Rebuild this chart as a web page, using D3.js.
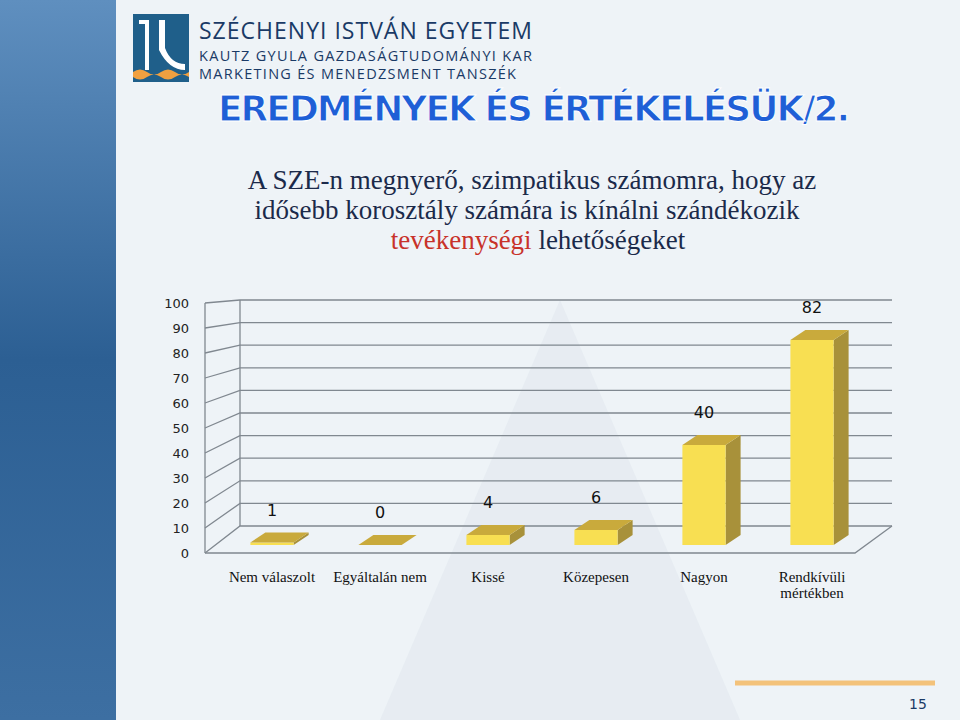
<!DOCTYPE html>
<html><head><meta charset="utf-8">
<script src="https://cdn.jsdelivr.net/npm/d3@7"></script>
<style>body{margin:0;background:#eef3f7}</style>
</head><body>
<svg id="chart" width="960" height="720"></svg>
<script>
const categories = ["Nem válaszolt", "Egyáltalán nem", "Kissé", "Közepesen", "Nagyon", "Rendkívüli mértékben"]
const values = [1, 0, 4, 6, 40, 82]
const yTicks = [0, 10, 20, 30, 40, 50, 60, 70, 80, 90, 100]

const svg = d3.select("#chart")

// background
const defs = svg.append("defs")
const grad = defs.append("linearGradient").attr("id", "side").attr("x1", 0).attr("y1", 0).attr("x2", 0).attr("y2", 1)
grad.append("stop").attr("offset", "0%").attr("stop-color", "#5f8fbf")
grad.append("stop").attr("offset", "50%").attr("stop-color", "#2c5f93")
grad.append("stop").attr("offset", "100%").attr("stop-color", "#3d6fa2")
svg.append("rect").attr("width", 960).attr("height", 720).attr("fill", "#eef3f7")
svg.append("rect").attr("width", 116).attr("height", 720).attr("fill", "url(#side)")
svg.append("path").attr("d", "M380,720 L560,300 L740,720 Z").attr("fill", "#dfe6ee").attr("opacity", 0.5)

// logo
const logo = svg.append("g").attr("transform", "translate(133,14)")
logo.append("rect").attr("width", 56).attr("height", 68).attr("fill", "#1f5f8a")
logo.append("path").attr("d", "M6,6 h10 v50 h-4 v-46 h-6 Z M26,6 v30 q10,20 26,20 v-6 q-14,0 -20,-16 v-28 Z").attr("fill", "#fff")
logo.append("path").attr("d", "M0,58 q7,-5 14,0 t14,0 t14,0 t14,0 v5 q-7,-5 -14,0 t-14,0 t-14,0 t-14,0 Z").attr("fill", "#f0a040")
const hdr = svg.append("g").attr("font-family", "Open Sans, sans-serif").attr("fill", "#1a3a66")
hdr.append("text").attr("x", 199).attr("y", 39).attr("font-size", 23).attr("textLength", 333).text("SZÉCHENYI ISTVÁN EGYETEM")
hdr.append("text").attr("x", 199).attr("y", 61).attr("font-size", 14.5).attr("textLength", 333).text("KAUTZ GYULA GAZDASÁGTUDOMÁNYI KAR")
hdr.append("text").attr("x", 199).attr("y", 79).attr("font-size", 14.5).attr("textLength", 317).text("MARKETING  ÉS MENEDZSMENT TANSZÉK")
svg.append("text").attr("x", 218).attr("y", 121).attr("font-family", "Verdana, DejaVu Sans, sans-serif")
  .attr("font-weight", "bold").attr("font-size", 36).attr("fill", "#1f5fd6")
  .attr("stroke", "#fff").attr("stroke-width", 1).attr("letter-spacing", -2)
  .text("EREDMÉNYEK ÉS ÉRTÉKELÉSÜK/2.")

const sub = svg.append("g").attr("font-family", "Liberation Serif, serif").attr("font-size", 27).attr("text-anchor", "middle").attr("fill", "#1b2a4a")
sub.append("text").attr("x", 532).attr("y", 189).text("A SZE-n megnyerő, szimpatikus számomra, hogy az")
sub.append("text").attr("x", 527).attr("y", 219).text("idősebb korosztály számára is kínálni szándékozik")
const l3 = sub.append("text").attr("x", 538).attr("y", 249)
l3.append("tspan").attr("fill", "#c8322a").text("tevékenységi")
l3.append("tspan").text(" lehetőségeket")

// chart geometry
const yFront = d3.scaleLinear().domain([0, 100]).range([553, 303])
const yBack = d3.scaleLinear().domain([0, 100]).range([526, 300])
const yBar = d3.scaleLinear().domain([0, 100]).range([545, 295])
const x = d3.scaleBand().domain(categories).range([218, 866]).paddingInner(0.6).paddingOuter(0.3)
const wallL = 240, wallR = 892, frontL = 205, frontR = 855

const grid = svg.append("g").attr("stroke", "#808890").attr("stroke-width", 1.3).attr("fill", "none")
yTicks.forEach(t => {
  grid.append("path").attr("d", `M${frontL},${yFront(t)} L${wallL},${yBack(t)} L${wallR},${yBack(t)}`)
})
grid.append("path").attr("d", `M${frontL},${yFront(0)} L${frontL},${yFront(100)}`)
grid.append("path").attr("d", `M${wallL},${yBack(0)} L${wallL},${yBack(100)}`)
grid.append("path").attr("d", `M${frontL},${yFront(0)} L${frontR},${yFront(0)} L${wallR},${yBack(0)}`)

svg.append("g").attr("font-family", "DejaVu Sans, sans-serif").attr("font-size", 13).attr("fill", "#222").attr("text-anchor", "end")
  .selectAll("text").data(yTicks).join("text")
  .attr("x", 189).attr("y", d => yFront(d) + 5).text(d => d)

// bars
const dx = 15, dy = 10
const bars = svg.append("g").selectAll("g").data(categories).join("g")
bars.each(function(c, i) {
  const g = d3.select(this)
  const x0 = x(c), w = x.bandwidth(), top = yBar(values[i]), base = yBar(0)
  g.append("path").attr("d", `M${x0 + w},${base} L${x0 + w + dx},${base - dy} L${x0 + w + dx},${top - dy} L${x0 + w},${top} Z`).attr("fill", "#a8913a")
  g.append("rect").attr("x", x0).attr("y", top).attr("width", w).attr("height", Math.max(base - top, 0.01)).attr("fill", "#f8df52")
  g.append("path").attr("d", `M${x0},${top} L${x0 + dx},${top - dy} L${x0 + w + dx},${top - dy} L${x0 + w},${top} Z`).attr("fill", "#c9aa3c")
  g.append("text").attr("x", x0 + w / 2).attr("y", top - 27)
    .attr("text-anchor", "middle").attr("font-family", "DejaVu Sans, sans-serif").attr("font-size", 16).attr("fill", "#111")
    .text(values[i])
})

// category labels
const lab = svg.append("g").attr("font-family", "Liberation Serif, serif").attr("font-size", 15).attr("text-anchor", "middle").attr("fill", "#111")
categories.forEach(c => {
  const cx = x(c) + x.bandwidth() / 2
  const parts = c === "Rendkívüli mértékben" ? ["Rendkívüli", "mértékben"] : [c]
  parts.forEach((p, k) => lab.append("text").attr("x", cx).attr("y", 582 + k * 16).text(p))
})

// footer
svg.append("line").attr("x1", 735).attr("x2", 935).attr("y1", 683).attr("y2", 683).attr("stroke", "#f3c27a").attr("stroke-width", 5)
svg.append("text").attr("x", 918).attr("y", 709).attr("text-anchor", "middle").attr("font-family", "DejaVu Sans, sans-serif").attr("font-size", 14).attr("fill", "#1a3a66").text("15")
</script>
</body></html>
